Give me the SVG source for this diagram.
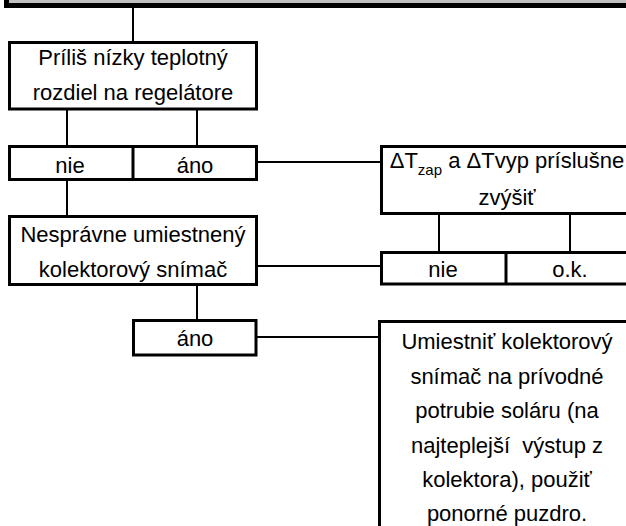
<svg xmlns="http://www.w3.org/2000/svg" width="626" height="526" viewBox="0 0 626 526">
  <style>
    .box { fill: #ffffff; stroke: #000000; stroke-width: 3; }
    .bar { fill: #c0c0c0; stroke: #000000; stroke-width: 5; }
    .div { stroke: #000000; stroke-width: 3; }
    .wire { stroke: #000000; stroke-width: 2; fill: none; }
    text { font-family: "Liberation Sans", Arial, sans-serif; font-size: 22px; fill: #000000; text-anchor: middle; }
    .sub { font-size: 15px; }
    .pre { white-space: pre; }
  </style>
  <rect width="626" height="526" fill="#ffffff"/>

  <!-- header bar -->
  <g id="header">
    <rect class="bar" x="6.5" y="-20" width="640" height="25.5"/>
  </g>

  <!-- connectors -->
  <g id="connectors">
    <line class="wire" x1="133" y1="8" x2="133" y2="41"/>
    <line class="wire" x1="67" y1="110" x2="67" y2="145"/>
    <line class="wire" x1="197" y1="110" x2="197" y2="145"/>
    <line class="wire" x1="67" y1="181" x2="67" y2="215"/>
    <line class="wire" x1="258" y1="162" x2="380" y2="162"/>
    <line class="wire" x1="439" y1="215" x2="439" y2="251"/>
    <line class="wire" x1="570" y1="215" x2="570" y2="251"/>
    <line class="wire" x1="258" y1="266" x2="380" y2="266"/>
    <line class="wire" x1="197" y1="286" x2="197" y2="319"/>
    <line class="wire" x1="257" y1="337" x2="378" y2="337"/>
  </g>

  <g id="q-temp-diff">
    <rect class="box" x="9.5" y="42.5" width="247" height="66.5"/>
    <text x="133" y="65">Príliš nízky teplotný</text>
    <text x="133" y="100">rozdiel na regelátore</text>
  </g>

  <g id="ans-temp-diff">
    <rect class="box" x="9.5" y="146.5" width="247" height="33"/>
    <line class="div" x1="133" y1="146.5" x2="133" y2="179.5"/>
    <text x="70" y="173">nie</text>
    <text x="195" y="173">áno</text>
  </g>

  <g id="q-sensor">
    <rect class="box" x="9.5" y="216.5" width="247" height="68"/>
    <text x="133" y="242">Nesprávne umiestnený</text>
    <text x="133" y="277">kolektorový snímač</text>
  </g>

  <g id="act-delta">
    <rect class="box" x="381.5" y="146.5" width="260" height="67"/>
    <text x="507" y="168">ΔT<tspan class="sub" dy="7">zap</tspan><tspan dy="-7"> a ΔTvyp príslušne</tspan></text>
    <text x="507" y="205">zvýšiť</text>
  </g>

  <g id="ans-delta">
    <rect class="box" x="381.5" y="252.5" width="260" height="31.5"/>
    <line class="div" x1="506" y1="252.5" x2="506" y2="284"/>
    <text x="443" y="277">nie</text>
    <text x="570" y="277">o.k.</text>
  </g>

  <g id="ans-sensor">
    <rect class="box" x="133.5" y="320.5" width="122.5" height="34.5"/>
    <text x="195" y="346">áno</text>
  </g>

  <g id="act-sensor">
    <rect class="box" x="379.5" y="321.5" width="260" height="220"/>
    <text x="507" y="349">Umiestniť kolektorový</text>
    <text x="507" y="383.5">snímač na prívodné</text>
    <text x="507" y="418">potrubie soláru (na</text>
    <text class="pre" x="507" y="452.5">najteplejší  výstup z</text>
    <text x="507" y="487">kolektora), použiť</text>
    <text x="507" y="521">ponorné puzdro.</text>
  </g>
</svg>
